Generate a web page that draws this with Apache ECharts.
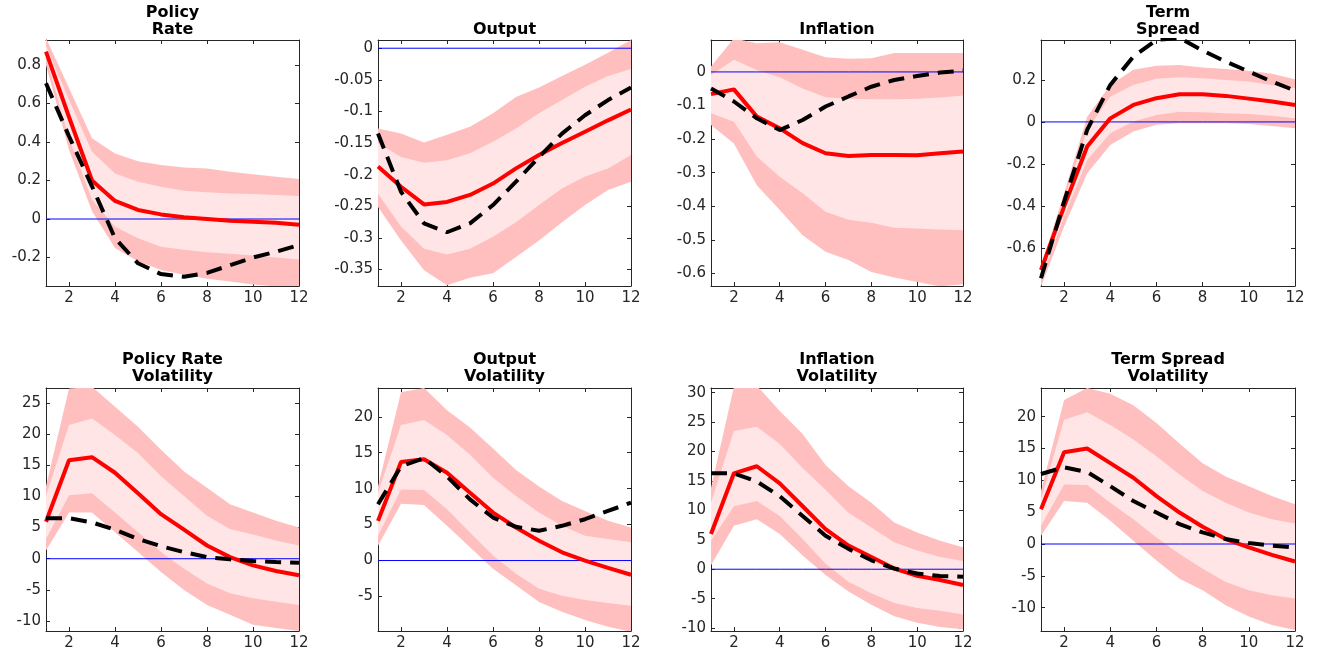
<!DOCTYPE html>
<html><head><meta charset="utf-8">
<script src="https://cdn.jsdelivr.net/npm/echarts@6/dist/echarts.min.js"></script>
<style>html,body{margin:0;padding:0;background:#fff}#c{width:1320px;height:651px}</style>
</head><body><div id="c"></div>
<script>
const periods = [1,2,3,4,5,6,7,8,9,10,11,12];
const panelTitles = ['Policy\nRate','Output','Inflation','Term\nSpread','Policy Rate\nVolatility','Output\nVolatility','Inflation\nVolatility','Term Spread\nVolatility'];

// y-axis ranges and tick steps per panel
const yMins  = [-0.348, -0.376, -0.637, -0.781, -11.6, -9.8, -10.5, -13.66];
const yMaxs  = [0.93, 0.013, 0.095, 0.39, 27.4, 24.0, 30.8, 24.5];
const ySteps = [0.2, 0.05, 0.1, 0.2, 5, 5, 5, 5];
const zeroLevel = [0, 0, 0, 0, 0, 0, 0, 0, 0, 0, 0, 0];

// Policy Rate
const policyRateMedian = [0.87, 0.53, 0.20, 0.094, 0.047, 0.024, 0.009, 0.0, -0.009, -0.014, -0.02, -0.03];
const policyRateTrue   = [0.705, 0.43, 0.17, -0.10, -0.23, -0.286, -0.30, -0.28, -0.24, -0.20, -0.17, -0.135];
const policyRateOuterHi = [0.94, 0.68, 0.42, 0.34, 0.30, 0.28, 0.267, 0.263, 0.246, 0.232, 0.22, 0.208];
const policyRateInnerHi = [0.90, 0.62, 0.35, 0.237, 0.194, 0.168, 0.147, 0.139, 0.133, 0.13, 0.125, 0.12];
const policyRateInnerLo = [0.84, 0.42, 0.10, -0.04, -0.10, -0.144, -0.16, -0.173, -0.18, -0.19, -0.20, -0.21];
const policyRateOuterLo = [0.80, 0.36, 0.04, -0.15, -0.22, -0.265, -0.29, -0.31, -0.325, -0.34, -0.35, -0.36];

// Output
const outputMedian = [-0.187, -0.219, -0.247, -0.243, -0.232, -0.214, -0.19, -0.169, -0.150, -0.132, -0.114, -0.097];
const outputTrue   = [-0.135, -0.227, -0.277, -0.291, -0.277, -0.248, -0.211, -0.172, -0.135, -0.106, -0.082, -0.062];
const outputOuterHi = [-0.127, -0.135, -0.149, -0.137, -0.124, -0.103, -0.077, -0.062, -0.044, -0.026, -0.007, 0.013];
const outputInnerHi = [-0.15, -0.172, -0.181, -0.177, -0.166, -0.148, -0.127, -0.103, -0.082, -0.061, -0.044, -0.033];
const outputInnerLo = [-0.23, -0.282, -0.317, -0.326, -0.317, -0.298, -0.275, -0.248, -0.222, -0.203, -0.19, -0.169];
const outputOuterLo = [-0.251, -0.304, -0.351, -0.375, -0.363, -0.356, -0.33, -0.304, -0.275, -0.248, -0.224, -0.211];

// Inflation
const inflationMedian = [-0.066, -0.052, -0.133, -0.168, -0.212, -0.242, -0.25, -0.247, -0.247, -0.248, -0.242, -0.237];
const inflationTrue   = [-0.049, -0.088, -0.138, -0.173, -0.143, -0.103, -0.073, -0.044, -0.024, -0.012, -0.002, 0.004];
const inflationOuterHi = [0.016, 0.1, 0.085, 0.088, 0.066, 0.044, 0.039, 0.041, 0.056, 0.056, 0.056, 0.056];
const inflationInnerHi = [-0.009, 0.036, 0.006, -0.016, -0.049, -0.075, -0.08, -0.081, -0.081, -0.08, -0.076, -0.07];
const inflationInnerLo = [-0.123, -0.148, -0.252, -0.312, -0.361, -0.416, -0.44, -0.449, -0.464, -0.466, -0.469, -0.471];
const inflationOuterLo = [-0.158, -0.213, -0.337, -0.411, -0.486, -0.535, -0.56, -0.595, -0.612, -0.625, -0.638, -0.632];

// Term Spread
const termSpreadMedian = [-0.705, -0.403, -0.117, 0.017, 0.081, 0.113, 0.132, 0.132, 0.124, 0.111, 0.097, 0.081];
const termSpreadTrue   = [-0.744, -0.379, -0.038, 0.176, 0.311, 0.39, 0.40, 0.34, 0.287, 0.24, 0.192, 0.149];
const termSpreadOuterHi = [-0.689, -0.34, 0.025, 0.176, 0.248, 0.267, 0.271, 0.259, 0.252, 0.244, 0.229, 0.203];
const termSpreadInnerHi = [-0.713, -0.371, -0.038, 0.121, 0.176, 0.205, 0.213, 0.208, 0.2, 0.192, 0.176, 0.16];
const termSpreadInnerLo = [-0.752, -0.451, -0.181, -0.054, 0.002, 0.033, 0.049, 0.046, 0.041, 0.038, 0.029, 0.017];
const termSpreadOuterLo = [-0.784, -0.498, -0.244, -0.11, -0.046, -0.014, -0.006, -0.006, -0.006, -0.01, -0.019, -0.03];

// Policy Rate Volatility
const policyVolMedian = [5.93, 15.8, 16.3, 13.8, 10.5, 7.15, 4.66, 2.12, 0.26, -1.06, -1.96, -2.65];
const policyVolTrue   = [6.5, 6.5, 5.83, 4.66, 3.18, 2.01, 1.06, 0.26, -0.1, -0.37, -0.53, -0.64];
const policyVolOuterHi = [11.65, 27.3, 27.6, 24.4, 21.2, 17.5, 14.0, 11.4, 8.74, 7.42, 6.09, 5.03];
const policyVolInnerHi = [10.06, 21.45, 22.5, 19.86, 16.95, 13.24, 10.06, 6.89, 4.77, 3.87, 2.91, 2.12];
const policyVolInnerLo = [3.18, 10.2, 10.5, 7.42, 4.24, 1.06, -1.59, -3.97, -5.56, -6.36, -6.89, -7.42];
const policyVolOuterLo = [1.32, 7.42, 7.42, 4.24, 1.06, -2.12, -5.03, -7.42, -9.0, -10.6, -11.1, -11.6];

// Output Volatility
const outputVolMedian = [5.52, 13.7, 14.1, 12.2, 9.43, 6.67, 4.6, 2.76, 1.15, 0, -1.01, -1.98];
const outputVolTrue   = [7.82, 13.1, 14.25, 11.7, 8.5, 5.98, 4.69, 4.14, 4.83, 5.75, 6.9, 8.05];
const outputVolOuterHi = [10.3, 23.4, 24.0, 20.9, 18.5, 15.6, 12.6, 10.3, 8.28, 6.9, 5.52, 4.6];
const outputVolInnerHi = [9.43, 18.85, 19.54, 17.47, 14.7, 11.5, 8.97, 6.67, 4.83, 3.45, 2.99, 2.53];
const outputVolInnerLo = [3.45, 9.89, 9.8, 7.13, 3.91, 0.69, -1.84, -3.91, -4.9, -5.5, -5.9, -6.3];
const outputVolOuterLo = [2.07, 7.91, 7.73, 4.83, 1.84, -1.15, -3.45, -5.75, -7.13, -8.28, -9.2, -9.9];

// Inflation Volatility
const inflationVolMedian = [5.98, 16.3, 17.5, 14.6, 10.7, 6.8, 4.02, 2.07, 0.11, -1.12, -1.84, -2.68];
const inflationVolTrue   = [16.3, 16.3, 14.9, 12.4, 9.05, 5.7, 3.46, 1.51, 0.11, -0.73, -1.17, -1.28];
const inflationVolOuterHi = [13.8, 31.0, 31.2, 26.9, 23.0, 17.7, 14.1, 11.3, 7.93, 6.26, 4.86, 3.74];
const inflationVolInnerHi = [11.3, 23.5, 24.2, 21.3, 17.2, 13.5, 9.6, 7.1, 4.58, 3.18, 2.07, 1.4];
const inflationVolInnerLo = [4.86, 10.7, 11.6, 9.05, 5.14, 0.95, -2.12, -4.08, -5.75, -6.59, -7.04, -7.71];
const inflationVolOuterLo = [0.67, 7.37, 8.5, 5.98, 2.35, -1.0, -3.8, -6.03, -7.99, -9.1, -9.83, -10.2];

// Term Spread Volatility
const termVolMedian = [5.45, 14.4, 15.0, 12.7, 10.4, 7.53, 4.94, 2.7, 0.78, -0.52, -1.71, -2.75];
const termVolTrue   = [11.0, 12.05, 11.3, 9.09, 6.75, 4.94, 3.12, 1.82, 0.78, 0.16, -0.26, -0.52];
const termVolOuterHi = [8.31, 22.6, 24.5, 23.6, 21.8, 19.0, 15.8, 12.7, 10.6, 9.09, 7.53, 6.23];
const termVolInnerHi = [7.01, 19.5, 20.7, 18.7, 16.4, 13.8, 10.9, 8.31, 6.49, 4.94, 3.9, 3.22];
const termVolInnerLo = [2.86, 9.35, 9.25, 6.49, 3.9, 1.04, -1.56, -3.9, -5.97, -7.27, -8.05, -8.57];
const termVolOuterLo = [1.3, 6.75, 6.49, 3.64, 0.52, -2.6, -5.45, -7.27, -9.61, -11.4, -12.7, -13.5];

const panels = [
  [policyRateMedian, policyRateTrue, policyRateOuterLo, policyRateOuterHi, policyRateInnerLo, policyRateInnerHi],
  [outputMedian, outputTrue, outputOuterLo, outputOuterHi, outputInnerLo, outputInnerHi],
  [inflationMedian, inflationTrue, inflationOuterLo, inflationOuterHi, inflationInnerLo, inflationInnerHi],
  [termSpreadMedian, termSpreadTrue, termSpreadOuterLo, termSpreadOuterHi, termSpreadInnerLo, termSpreadInnerHi],
  [policyVolMedian, policyVolTrue, policyVolOuterLo, policyVolOuterHi, policyVolInnerLo, policyVolInnerHi],
  [outputVolMedian, outputVolTrue, outputVolOuterLo, outputVolOuterHi, outputVolInnerLo, outputVolInnerHi],
  [inflationVolMedian, inflationVolTrue, inflationVolOuterLo, inflationVolOuterHi, inflationVolInnerLo, inflationVolInnerHi],
  [termVolMedian, termVolTrue, termVolOuterLo, termVolOuterHi, termVolInnerLo, termVolInnerHi]
];

// layout
const colLeft = [46, 378, 711, 1041];
const colWidth = [253, 253, 252, 254];
const rowTop = [40, 388];
const rowHeight = [246, 245];
const titleTop = [4.5, 351.5];

const AXIS_COLOR = '#262626';
const OUTER_COLOR = '#FFBFBF';
const INNER_COLOR = '#FFE5E5';

function fmt(v) {
  const r = Math.round(v * 1e6) / 1e6;
  return String(r === 0 ? 0 : r);
}
const mkLine = () => ({show: true, onZero: false, lineStyle: {color: AXIS_COLOR, width: 1}});
const mkTick = () => ({show: true, inside: true, length: 4, lineStyle: {color: AXIS_COLOR, width: 1}});
const mkLabel = (fmtFn) => ({margin: 5, color: AXIS_COLOR, fontSize: 15, fontFamily: 'DejaVu Sans', formatter: fmtFn});

const grid = [], xAxis = [], yAxis = [], series = [], graphic = [];

panels.forEach((p, i) => {
  const [median, truth, outerLo, outerHi, innerLo, innerHi] = p;
  const col = i % 4, row = Math.floor(i / 4);
  grid.push({left: colLeft[col], top: rowTop[row], width: colWidth[col], height: rowHeight[row], containLabel: false});
  xAxis.push({type: 'value', gridIndex: i, position: 'bottom', min: 1, max: 12, minInterval: 2, maxInterval: 2,
    axisLine: mkLine(), axisTick: mkTick(), splitLine: {show: false},
    axisLabel: mkLabel(v => (Math.round(v) % 2 === 0 ? String(Math.round(v)) : ''))});
  xAxis.push({type: 'value', gridIndex: i, position: 'top', min: 1, max: 12, minInterval: 2, maxInterval: 2,
    axisLine: mkLine(), axisTick: mkTick(), splitLine: {show: false}, axisLabel: {show: false}});
  const step = ySteps[i];
  yAxis.push({type: 'value', gridIndex: i, position: 'left', min: yMins[i], max: yMaxs[i], minInterval: step, maxInterval: step,
    axisLine: mkLine(), axisTick: mkTick(), splitLine: {show: false},
    axisLabel: mkLabel(v => { const k = v / step; return Math.abs(k - Math.round(k)) < 1e-6 ? fmt(v) : ''; })});
  yAxis.push({type: 'value', gridIndex: i, position: 'right', min: yMins[i], max: yMaxs[i], minInterval: step, maxInterval: step,
    axisLine: mkLine(), axisTick: mkTick(), splitLine: {show: false}, axisLabel: {show: false}});

  const band = (lo, hi, color, z) => ({
    type: 'custom', xAxisIndex: 2 * i, yAxisIndex: 2 * i, clip: true, silent: true, z,
    data: periods.map((x, k) => [x, lo[k], hi[k]]),
    encode: {x: 0, y: [1, 2]},
    renderItem: (params, api) => {
      if (params.dataIndex !== 0) return null;
      const pts = [];
      periods.forEach((x, k) => pts.push(api.coord([x, hi[k]])));
      for (let k = periods.length - 1; k >= 0; k--) pts.push(api.coord([periods[k], lo[k]]));
      return {type: 'polygon', shape: {points: pts}, style: {fill: color}};
    }
  });
  series.push(band(outerLo, outerHi, OUTER_COLOR, 1));
  series.push(band(innerLo, innerHi, INNER_COLOR, 1.5));
  series.push({
    type: 'line', xAxisIndex: 2 * i, yAxisIndex: 2 * i, z: 2, clip: true, silent: true,
    symbol: 'none', showSymbol: false,
    data: periods.map((x, k) => [x, zeroLevel[k]]),
    lineStyle: {color: '#0000FF', width: 1, type: 'solid'}
  });
  series.push({
    type: 'line', xAxisIndex: 2 * i, yAxisIndex: 2 * i, z: 3, clip: true, silent: true,
    symbol: 'none', showSymbol: false,
    data: periods.map((x, k) => [x, median[k]]),
    lineStyle: {color: '#FF0000', width: 4}
  });
  series.push({
    type: 'line', xAxisIndex: 2 * i, yAxisIndex: 2 * i, z: 4, clip: true, silent: true,
    symbol: 'none', showSymbol: false,
    data: periods.map((x, k) => [x, truth[k]]),
    lineStyle: {color: '#000000', width: 4, type: [16, 9]}
  });

  const t = panelTitles[i];
  const nLines = t.split('\n').length;
  graphic.push({type: 'text', x: colLeft[col] + colWidth[col] / 2, y: titleTop[row] + (nLines === 1 ? 17 : 0),
    style: {text: t, fontSize: 16, fontWeight: 'bold', fontFamily: 'DejaVu Sans', fill: '#000', align: 'center', verticalAlign: 'top', lineHeight: 17}});
});

const chart = echarts.init(document.getElementById('c'), null, {renderer: 'canvas'});
chart.setOption({animation: false, backgroundColor: '#fff', grid, xAxis, yAxis, series, graphic});
</script>
</body></html>
